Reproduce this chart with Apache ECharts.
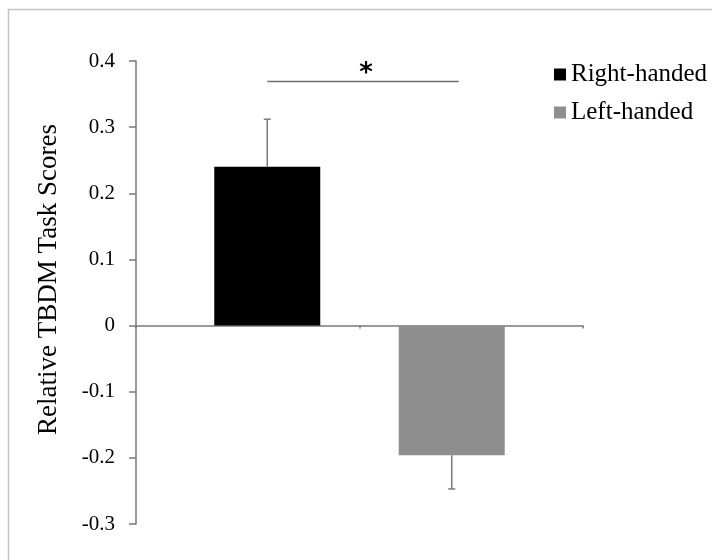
<!DOCTYPE html>
<html>
<head>
<meta charset="utf-8">
<script src="https://cdn.jsdelivr.net/npm/echarts@6/dist/echarts.min.js"></script>
<style>html,body{margin:0;padding:0;background:#fff}#c{width:712px;height:560px}</style>
</head>
<body>
<div id="c"></div>
<script>
// ---- data ----
const categories = ['Right-handed', 'Left-handed'];
const seriesNames = ['Right-handed', 'Left-handed'];
const rightValues = [0.24, '-'];
const leftValues = ['-', -0.196];
// [category index, bar value, error-bar end, slot (0 = left, 1 = right)]
const errorBars = [[0, 0.24, 0.312, 1], [1, -0.196, -0.247, 0]];
// significance bracket: [from category, to category, y value]
const sigBracket = [[0, 1, 0.369]];
const sigLabel = '*';
const yMin = -0.3, yMax = 0.4, yInterval = 0.1;

// ---- styles ----
const BAR_WIDTH = 106;
const BAR_GAP = -0.632;
const SLOT_OFFSET = BAR_WIDTH * (1 + BAR_GAP) / 2;
const AXIS_COLOR = '#7a7a7a';
const SERIF = 'Liberation Serif, Times New Roman, serif';

const chart = echarts.init(document.getElementById('c'), null, {renderer: 'canvas'});
chart.setOption({
  animation: false,
  backgroundColor: '#fff',
  graphic: [{
    type: 'rect', shape: {x: 8.5, y: 9.5, width: 720, height: 570},
    style: {fill: 'none', stroke: '#c4c4c4', lineWidth: 1.5}, silent: true
  }],
  grid: {left: 136, top: 61, width: 447, height: 463},
  legend: {
    data: seriesNames,
    orient: 'vertical', left: 554, top: 62, padding: 0,
    icon: 'rect', itemWidth: 12, itemHeight: 12, itemGap: 13,
    textStyle: {fontFamily: SERIF, fontSize: 25, color: '#000'}
  },
  xAxis: {
    type: 'category', data: categories,
    axisLine: {onZero: true, lineStyle: {color: AXIS_COLOR, width: 1.5}},
    axisTick: {show: true, inside: false, length: 3, lineStyle: {color: AXIS_COLOR, width: 1.5}},
    axisLabel: {show: false},
    splitLine: {show: false}
  },
  yAxis: {
    type: 'value', min: yMin, max: yMax, interval: yInterval,
    name: 'Relative TBDM Task Scores', nameLocation: 'middle', nameGap: 74,
    nameTextStyle: {fontFamily: SERIF, fontSize: 27, color: '#000', padding: [0, 0, 0, 26]},
    axisLine: {show: true, lineStyle: {color: AXIS_COLOR, width: 1.5}},
    axisTick: {show: true, length: 7, lineStyle: {color: AXIS_COLOR, width: 1.5}},
    axisLabel: {fontFamily: SERIF, fontSize: 21, color: '#000', margin: 21,
      formatter: v => (Math.abs(v) < 1e-9 ? '0' : (Math.round(v * 10) / 10).toFixed(1))},
    splitLine: {show: false}
  },
  series: [
    {name: 'Left-handed', type: 'bar', data: leftValues, barWidth: BAR_WIDTH,
      barGap: (BAR_GAP * 100) + '%', itemStyle: {color: '#8e8e8e'}},
    {name: 'Right-handed', type: 'bar', data: rightValues, barWidth: BAR_WIDTH,
      itemStyle: {color: '#000'}},
    {type: 'custom', data: errorBars, z: 5, silent: true,
      renderItem: (params, api) => {
        const slot = api.value(3);
        const dx = slot === 1 ? SLOT_OFFSET : -SLOT_OFFSET;
        const p0 = api.coord([api.value(0), api.value(1)]);
        const p1 = api.coord([api.value(0), api.value(2)]);
        const x = p0[0] + dx;
        const st = {stroke: '#7a7a7a', lineWidth: 1.5};
        return {type: 'group', children: [
          {type: 'line', shape: {x1: x, y1: p0[1], x2: x, y2: p1[1]}, style: st},
          {type: 'line', shape: {x1: x - 3.5, y1: p1[1], x2: x + 3.5, y2: p1[1]}, style: st}
        ]};
      }},
    {type: 'custom', data: sigBracket, z: 5, silent: true,
      renderItem: (params, api) => {
        const a = api.coord([api.value(0), api.value(2)]);
        const b = api.coord([api.value(1), api.value(2)]);
        const x1 = a[0] + SLOT_OFFSET, x2 = b[0] - SLOT_OFFSET + 7;
        return {type: 'group', children: [
          {type: 'line', shape: {x1: x1, y1: a[1], x2: x2, y2: a[1]},
            style: {stroke: '#6e6e6e', lineWidth: 1.5}},
          {type: 'text', x: (x1 + x2) / 2 + 3, y: a[1] + 6,
            style: {text: sigLabel, fontFamily: 'DejaVu Sans, sans-serif', fontSize: 26,
              fontWeight: 'bold', fill: '#000', align: 'center', verticalAlign: 'bottom'}}
        ]};
      }}
  ]
});
</script>
</body>
</html>
